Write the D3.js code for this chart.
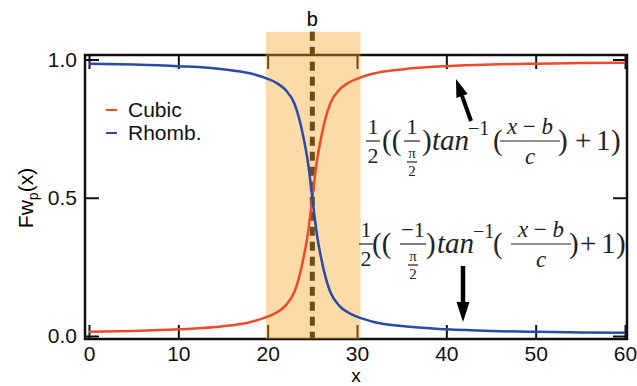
<!DOCTYPE html>
<html>
<head>
<meta charset="utf-8">
<script src="https://cdn.jsdelivr.net/npm/d3@7"></script>
<style>
  body { margin: 0; background: #fff; }
  svg { display: block; }
  .tick text { font-family: "Liberation Sans", Arial, sans-serif; font-size: 21px; fill: #111; }
  .math { font-family: "Liberation Serif", "DejaVu Serif", serif; fill: #222; }
</style>
</head>
<body>
<div id="chart"></div>
<script>
// values
const xTicks = [0, 10, 20, 30, 40, 50, 60];
const yTicks = [0, 0.5, 1];
const xs     = [0, 5, 10, 15, 18, 20, 21, 22, 23, 23.5, 24, 24.5, 25, 25.5, 26, 26.5, 27, 28, 29, 30, 32, 35, 40, 45, 50, 55, 60];
const cubic  = [0.015, 0.018, 0.024, 0.035, 0.05, 0.07, 0.085, 0.11, 0.16, 0.21, 0.28, 0.37, 0.5, 0.63, 0.72, 0.79, 0.84, 0.89, 0.915, 0.93, 0.95, 0.964, 0.976, 0.982, 0.985, 0.987, 0.988];
const rhomb  = [0.985, 0.982, 0.976, 0.965, 0.95, 0.93, 0.915, 0.89, 0.84, 0.79, 0.72, 0.63, 0.5, 0.37, 0.28, 0.21, 0.16, 0.11, 0.085, 0.07, 0.05, 0.036, 0.024, 0.018, 0.015, 0.013, 0.012];
const seriesNames = ['Cubic', 'Rhomb.'];
const bValue = 25;
const shadeRange = [19.8, 30.4];

const width = 637, height = 386;
const colors = ['#ef4a2b', '#2a49a9'];

const svg = d3.select('#chart').append('svg')
  .attr('width', width).attr('height', height);

const x = d3.scaleLinear().domain([0, 60]).range([89, 625]);
const y = d3.scaleLinear().domain([0, 1]).range([336, 59.5]);

const frame = { left: 85, right: 627, top: 55, bottom: 339 };

// axes, ticks pointing inward on all four sides
const tk = 14;
const gB = svg.append('g').attr('transform', `translate(0,${frame.bottom})`)
  .call(d3.axisBottom(x).tickValues(xTicks).tickSize(-tk).tickPadding(7));
const gT = svg.append('g').attr('transform', `translate(0,${frame.top})`)
  .call(d3.axisTop(x).tickValues(xTicks).tickSize(-tk).tickFormat(''));
const gL = svg.append('g').attr('transform', `translate(${frame.left},0)`)
  .call(d3.axisLeft(y).tickValues(yTicks).tickSize(-tk).tickPadding(8).tickFormat(d3.format('.1f')));
const gR = svg.append('g').attr('transform', `translate(${frame.right},0)`)
  .call(d3.axisRight(y).tickValues(yTicks).tickSize(-tk).tickFormat(''));
[gB, gT, gL, gR].forEach(g => {
  g.select('.domain').remove();
  g.selectAll('.tick line').attr('stroke', '#111').attr('stroke-width', 2);
});

svg.append('rect')
  .attr('x', frame.left).attr('y', frame.top)
  .attr('width', frame.right - frame.left).attr('height', frame.bottom - frame.top)
  .attr('fill', 'none').attr('stroke', '#111').attr('stroke-width', 2.5);

// b marker
svg.append('line')
  .attr('x1', x(bValue)).attr('x2', x(bValue))
  .attr('y1', y(1.1)).attr('y2', frame.bottom)
  .attr('stroke', '#111').attr('stroke-width', 5)
  .attr('stroke-dasharray', '9,6');

svg.append('text')
  .attr('x', x(bValue)).attr('y', 26)
  .attr('text-anchor', 'middle')
  .style('font-family', '"Liberation Sans", Arial, sans-serif').style('font-size', '20px')
  .text('b');

// shaded band
svg.append('rect')
  .attr('x', x(shadeRange[0])).attr('width', x(shadeRange[1]) - x(shadeRange[0]))
  .attr('y', y(1.1)).attr('height', frame.bottom - y(1.1))
  .attr('fill', '#f5a623').attr('fill-opacity', 0.4);

// curves
const line = d3.line().curve(d3.curveMonotoneX).x(d => x(d[0])).y(d => y(d[1]));
[cubic, rhomb].forEach((vals, i) => {
  svg.append('path')
    .datum(xs.map((v, j) => [v, vals[j]]))
    .attr('d', line)
    .attr('fill', 'none')
    .attr('stroke', colors[i])
    .attr('stroke-width', 2.5);
});

// legend
seriesNames.forEach((name, i) => {
  const ly = 110 + i * 23;
  svg.append('line').attr('x1', 106).attr('x2', 117).attr('y1', ly).attr('y2', ly)
    .attr('stroke', colors[i]).attr('stroke-width', 2);
  svg.append('text').attr('x', 128).attr('y', ly + 7)
    .style('font-family', '"Liberation Sans", Arial, sans-serif').style('font-size', '21px')
    .attr('fill', '#111').text(name);
});

// axis titles
svg.append('text')
  .attr('x', (frame.left + frame.right) / 2).attr('y', 382)
  .attr('text-anchor', 'middle')
  .style('font-family', '"Liberation Sans", Arial, sans-serif').style('font-size', '19px')
  .text('x');

const yl = svg.append('text')
  .attr('transform', 'translate(33,198) rotate(-90)')
  .attr('text-anchor', 'middle')
  .style('font-family', '"Liberation Sans", Arial, sans-serif').style('font-size', '21px');
yl.append('tspan').text('Fw');
yl.append('tspan').attr('dy', 5).style('font-size', '14px').text('p');
yl.append('tspan').attr('dy', -5).text('(x)');

// formulas
function piece(t, px, py, size, opts = {}) {
  const el = svg.append('text').attr('class', 'math')
    .attr('x', px).attr('y', py)
    .style('font-size', size + 'px')
    .attr('text-anchor', opts.anchor || 'start');
  if (opts.italic) el.style('font-style', 'italic');
  el.text(t);
  return el;
}
function bar(x1, x2, by) {
  svg.append('line').attr('x1', x1).attr('x2', x2).attr('y1', by).attr('y2', by)
    .attr('stroke', '#222').attr('stroke-width', 1.2);
}
function xmb(cx, by) {
  const t = svg.append('text').attr('class', 'math')
    .attr('x', cx).attr('y', by).attr('text-anchor', 'middle').style('font-size', '23px');
  t.append('tspan').style('font-style', 'italic').text('x');
  t.append('tspan').text(' \u2212 ');
  t.append('tspan').style('font-style', 'italic').text('b');
}

function formula(ax, o, sign) {
  const base = ax + 9;
  // 1/2
  piece('1', o.half, ax - 7, 22, { anchor: 'middle' });
  bar(o.half - 7, o.half + 7, ax);
  piece('2', o.half, ax + 22, 22, { anchor: 'middle' });
  piece('((', o.par, base, 29);
  // (+-1)/(pi/2)
  piece(sign, o.fr, ax - 7, 22, { anchor: 'middle' });
  bar(o.fr - o.frw, o.fr + o.frw, ax);
  piece('\u03c0', o.fr, ax + 17, 15, { anchor: 'middle' });
  bar(o.fr - 5, o.fr + 5, ax + 21);
  piece('2', o.fr, ax + 35, 15, { anchor: 'middle' });
  piece(')', o.close, base, 29);
  piece('tan', o.tan, base, 29, { italic: true });
  piece('\u22121', o.tan + 36, base - 15, 20);
  piece('(', 493, base, 29);
  xmb(o.num, ax - 7);
  bar(o.num - 30, o.num + 30, ax);
  piece('c', o.num, ax + 23, 23, { anchor: 'middle', italic: true });
  piece(')', o.num + 28, base, 29);
  piece('+', o.plus, base, 29);
  piece('1', o.plus + 21, base, 29);
  piece(')', o.plus + 36, base, 29);
}

formula(141, { half: 373, par: 382, fr: 412, frw: 8, close: 422, tan: 432, num: 530, plus: 575 }, '1');
formula(244, { half: 366, par: 372, fr: 413, frw: 13, close: 426, tan: 437, num: 541, plus: 580 }, '\u22121');

// arrows
function arrow(x1, y1, x2, y2, w, hl, hw) {
  const a = Math.atan2(y2 - y1, x2 - x1);
  const bx = x2 - hl * Math.cos(a), by = y2 - hl * Math.sin(a);
  svg.append('line').attr('x1', x1).attr('y1', y1).attr('x2', bx).attr('y2', by)
    .attr('stroke', '#000').attr('stroke-width', w);
  const px = -Math.sin(a) * hw, py = Math.cos(a) * hw;
  svg.append('path')
    .attr('d', `M${x2},${y2}L${bx + px},${by + py}L${bx - px},${by - py}Z`)
    .attr('fill', '#000');
}
arrow(471, 121, 456, 79, 4, 18, 6);
arrow(463, 266, 463, 322, 4.5, 20, 6.5);
</script>
</body>
</html>
